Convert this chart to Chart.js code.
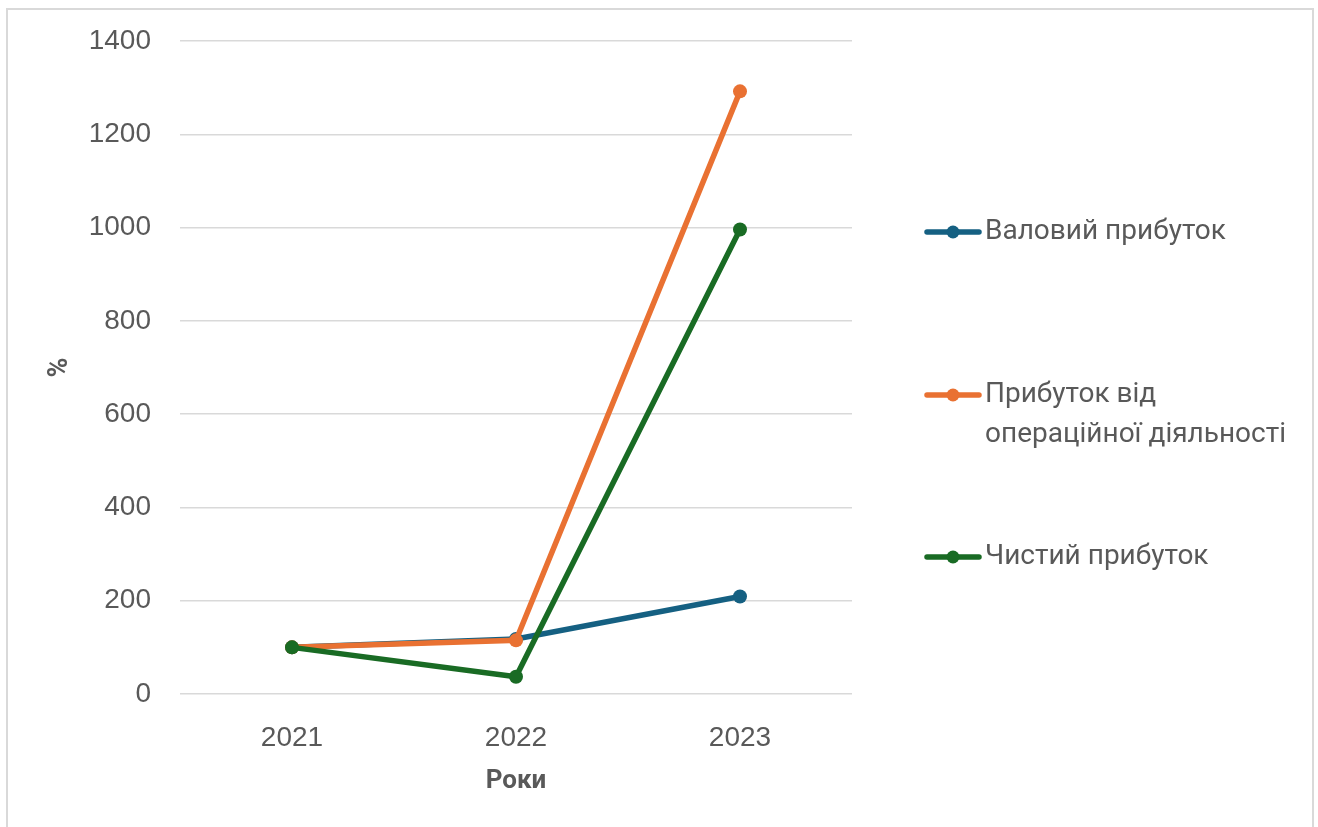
<!DOCTYPE html>
<html>
<head>
<meta charset="utf-8">
<script src="https://cdn.jsdelivr.net/npm/chart.js@4"></script>
<style>
  html, body { margin: 0; padding: 0; background: #ffffff; }
  #wrap { width: 1318px; height: 827px; position: relative; }
</style>
</head>
<body>
<div id="wrap"><canvas id="chart" width="1318" height="827"></canvas></div>
<script>
// data
const years = ['2021', '2022', '2023'];
const grossProfit = [100, 118, 209];       // Валовий прибуток
const operatingProfit = [100, 115, 1292];  // Прибуток від операційної діяльності
const netProfit = [100, 37, 996];          // Чистий прибуток
const seriesNames = [
    ['Валовий прибуток'],
    ['Прибуток від', 'операційної діяльності'],
    ['Чистий прибуток']
];
const yTicks = [0, 200, 400, 600, 800, 1000, 1200, 1400];

const textColor = '#595959';
const gridColor = '#d9d9d9';

// frame round the whole chart + the legend on the right
const framePlugin = {
    id: 'frameAndLegend',
    beforeDraw: (chart) => {
        const ctx = chart.ctx;
        ctx.save();
        ctx.fillStyle = '#ffffff';
        ctx.fillRect(0, 0, chart.width, chart.height);
        ctx.strokeStyle = '#d9d9d9';
        ctx.lineWidth = 2;
        ctx.strokeRect(7, 9, 1306, 830);
        ctx.restore();
    },
    afterDraw: (chart) => {
        const ctx = chart.ctx;
        const itemY = [232, 395, 557];
        ctx.save();
        chart.data.datasets.forEach((ds, i) => {
            const y = itemY[i];
            ctx.strokeStyle = ds.borderColor;
            ctx.lineWidth = 5.5;
            ctx.lineCap = 'round';
            ctx.beginPath();
            ctx.moveTo(927, y);
            ctx.lineTo(979, y);
            ctx.stroke();
            ctx.fillStyle = ds.borderColor;
            ctx.beginPath();
            ctx.arc(953, y, 6.5, 0, Math.PI * 2);
            ctx.fill();
            ctx.fillStyle = textColor;
            ctx.font = '28px Roboto';
            ctx.textBaseline = 'middle';
            ctx.textAlign = 'left';
            seriesNames[i].forEach((line, j) => {
                ctx.fillText(line, 985, y + j * 40);
            });
        });
        ctx.restore();
    }
};

function makeSet(label, data, color, order) {
    return {
        label: label,
        data: data,
        borderColor: color,
        backgroundColor: color,
        borderWidth: 5.5,
        pointRadius: 7,
        pointHoverRadius: 7,
        pointBackgroundColor: color,
        pointBorderWidth: 0,
        tension: 0,
        fill: false,
        order: order
    };
}

new Chart(document.getElementById('chart').getContext('2d'), {
    type: 'line',
    data: {
        labels: years,
        datasets: [
            makeSet(seriesNames[0].join(' '), grossProfit, '#156082', 3),
            makeSet(seriesNames[1].join(' '), operatingProfit, '#e97132', 2),
            makeSet(seriesNames[2].join(' '), netProfit, '#196b24', 1)
        ]
    },
    options: {
        responsive: false,
        animation: false,
        layout: { padding: { left: 0, top: 41, right: 466, bottom: 0 } },
        plugins: {
            legend: { display: false },
            tooltip: { enabled: false }
        },
        scales: {
            x: {
                offset: true,
                grid: { display: false, drawTicks: false },
                border: { display: false },
                ticks: {
                    color: textColor,
                    font: { family: 'Liberation Sans', size: 28 },
                    padding: 27
                },
                title: {
                    display: true,
                    text: 'Роки',
                    color: textColor,
                    font: { family: 'Roboto', size: 26, weight: 'bold' },
                    padding: { top: 30, bottom: 30 }
                },
                afterFit: (scale) => { scale.height = 133; }
            },
            y: {
                min: 0,
                max: 1400,
                afterBuildTicks: (scale) => { scale.ticks = yTicks.map(v => ({ value: v })); },
                grid: { color: gridColor, lineWidth: 1.5, drawTicks: false },
                border: { display: false },
                ticks: {
                    color: textColor,
                    font: { family: 'Liberation Sans', size: 28 },
                    padding: 29,
                    callback: (v) => String(v)
                },
                title: {
                    display: true,
                    text: '%',
                    color: textColor,
                    font: { family: 'Roboto', size: 27, weight: 'bold' },
                    padding: { top: 44, bottom: 44 }
                },
                afterFit: (scale) => {
                    scale.width = 180;
                    scale.paddingTop = 0;
                    scale.paddingBottom = 0;
                }
            }
        }
    },
    plugins: [framePlugin]
});
</script>
</body>
</html>
